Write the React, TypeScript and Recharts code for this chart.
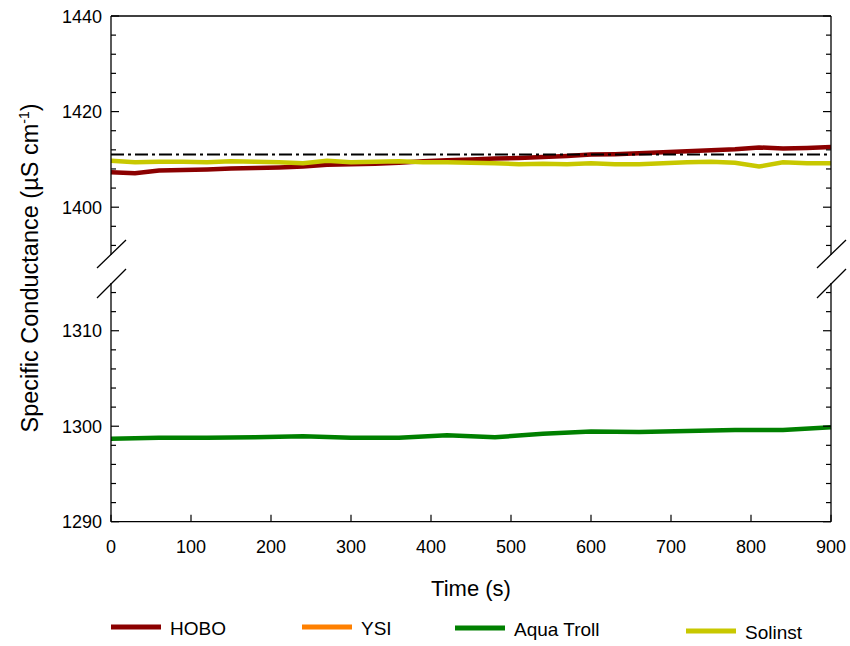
import React from 'react';
import { LineChart, Line, XAxis, YAxis, ReferenceLine } from 'recharts';

const FONT = '"Liberation Sans", Arial, sans-serif';

// HOBO / Solinst logging times (s)
const fastTimes = [0, 30, 60, 90, 120, 150, 180, 210, 240, 270, 300, 330, 360, 390, 420, 450, 480, 510, 540, 570, 600, 630, 660, 690, 720, 750, 780, 810, 840, 870, 900];
const hoboValues = [1407.3, 1407.1, 1407.7, 1407.8, 1407.9, 1408.1, 1408.2, 1408.3, 1408.5, 1408.9, 1409.0, 1409.1, 1409.3, 1409.6, 1409.8, 1410.0, 1410.2, 1410.3, 1410.5, 1410.7, 1411.0, 1411.1, 1411.3, 1411.5, 1411.7, 1411.9, 1412.1, 1412.5, 1412.3, 1412.4, 1412.6];
const solinstValues = [1409.7, 1409.4, 1409.5, 1409.5, 1409.4, 1409.6, 1409.5, 1409.4, 1409.2, 1409.7, 1409.4, 1409.5, 1409.6, 1409.4, 1409.4, 1409.3, 1409.2, 1409.0, 1409.1, 1409.0, 1409.2, 1409.0, 1409.0, 1409.2, 1409.4, 1409.5, 1409.3, 1408.5, 1409.4, 1409.2, 1409.2];

// Aqua Troll logging times (s)
const trollTimes = [0, 60, 120, 180, 240, 300, 360, 420, 480, 540, 600, 660, 720, 780, 840, 900];
const trollValues = [1298.7, 1298.8, 1298.8, 1298.85, 1298.95, 1298.8, 1298.8, 1299.05, 1298.85, 1299.2, 1299.45, 1299.4, 1299.5, 1299.6, 1299.6, 1299.9];

const standardValue = 1411;

const xTicks = [0, 100, 200, 300, 400, 500, 600, 700, 800, 900];
const upperTicks = [1440, 1436, 1432, 1428, 1424, 1420, 1416, 1412, 1408, 1404, 1400, 1396, 1392];
const upperMajor = [1440, 1420, 1400];
const lowerTicks = [1314, 1312, 1310, 1308, 1306, 1304, 1302, 1300, 1298, 1296, 1294, 1292, 1290];
const lowerMajor = [1310, 1300, 1290];

const seriesNames = ['HOBO', 'YSI', 'Aqua Troll', 'Solinst'];
const seriesColors = ['#8B0000', '#FF8000', '#008000', '#C8C800'];

const upperData = fastTimes.map((t, i) => ({ t, hobo: hoboValues[i], solinst: solinstValues[i] }));
const lowerData = trollTimes.map((t, i) => ({ t, troll: trollValues[i] }));

const AXIS = { stroke: '#000', strokeWidth: 1.3 };

const makeYTick = (major: number[], side: 'left' | 'right') => (props: any) => {
  const { x, y, payload } = props;
  const isMajor = major.includes(payload.value);
  const len = isMajor ? 8 : 5;
  const dir = side === 'left' ? 1 : -1;
  return (
    <g>
      <line x1={x} x2={x + dir * len} y1={y} y2={y} stroke="#000" strokeWidth={1.2} />
      {side === 'left' && isMajor && (
        <text x={x - 9} y={y} dy={6.5} textAnchor="end" fontSize={18} fontFamily={FONT} fill="#000">
          {payload.value}
        </text>
      )}
    </g>
  );
};

const XTick = (props: any) => {
  const { x, y, payload } = props;
  return (
    <g>
      <line x1={x} x2={x} y1={y} y2={y - 7} stroke="#000" strokeWidth={1.2} />
      <text x={x} y={y + 31.6} textAnchor="middle" fontSize={18} fontFamily={FONT} fill="#000">
        {payload.value}
      </text>
    </g>
  );
};

const legendX = [111, 302, 455, 686];
const legendDy = [0, 0, 1, 4];

const App: React.FC = () => {
  return (
    <div style={{ position: 'absolute', left: 0, top: 0, width: 850, height: 646, background: '#fff', fontFamily: FONT }}>
      {/* upper panel 1390-1440 */}
      <div style={{ position: 'absolute', left: 0, top: 0 }}>
        <LineChart width={850} height={256} data={upperData} margin={{ top: 16, right: 0, bottom: 1, left: 0 }}>
          <XAxis type="number" dataKey="t" domain={[0, 900]} hide />
          <YAxis
            type="number"
            domain={[1390, 1440]}
            allowDataOverflow
            ticks={upperTicks}
            interval={0}
            width={111}
            tickSize={0}
            tickMargin={0}
            tickLine={false}
            axisLine={AXIS}
            tick={makeYTick(upperMajor, 'left')}
          />
          <YAxis
            yAxisId="r"
            orientation="right"
            type="number"
            domain={[1390, 1440]}
            allowDataOverflow
            ticks={upperTicks}
            interval={0}
            width={19}
            tickSize={0}
            tickMargin={0}
            tickLine={false}
            axisLine={AXIS}
            tick={makeYTick(upperMajor, 'right')}
          />
          <ReferenceLine y={1440} stroke="#000" strokeWidth={1.3} />
          <Line type="linear" dataKey="hobo" stroke={seriesColors[0]} strokeWidth={4.5} dot={false} isAnimationActive={false} />
          <Line type="linear" dataKey="solinst" stroke={seriesColors[3]} strokeWidth={4.5} dot={false} isAnimationActive={false} />
          <ReferenceLine y={standardValue} stroke="#000" strokeWidth={2} strokeDasharray="13 4 3 4" />
        </LineChart>
      </div>

      {/* lower panel 1290-1315 */}
      <div style={{ position: 'absolute', left: 0, top: 270 }}>
        <LineChart width={850} height={300} data={lowerData} margin={{ top: 13, right: 0, bottom: 8.3, left: 0 }}>
          <XAxis
            type="number"
            dataKey="t"
            domain={[0, 900]}
            ticks={xTicks}
            interval={0}
            height={40}
            tickSize={0}
            tickMargin={0}
            tickLine={false}
            axisLine={AXIS}
            tick={XTick}
          />
          <YAxis
            type="number"
            domain={[1290, 1315]}
            allowDataOverflow
            ticks={lowerTicks}
            interval={0}
            width={111}
            tickSize={0}
            tickMargin={0}
            tickLine={false}
            axisLine={AXIS}
            tick={makeYTick(lowerMajor, 'left')}
          />
          <YAxis
            yAxisId="r"
            orientation="right"
            type="number"
            domain={[1290, 1315]}
            allowDataOverflow
            ticks={lowerTicks}
            interval={0}
            width={19}
            tickSize={0}
            tickMargin={0}
            tickLine={false}
            axisLine={AXIS}
            tick={makeYTick(lowerMajor, 'right')}
          />
          <Line type="linear" dataKey="troll" stroke={seriesColors[2]} strokeWidth={4.5} dot={false} isAnimationActive={false} />
        </LineChart>
      </div>

      {/* axis breaks, titles, legend */}
      <svg width={850} height={646} style={{ position: 'absolute', left: 0, top: 0, pointerEvents: 'none' }}>
        <g stroke="#000" strokeWidth={1.3}>
          <line x1={97} y1={268} x2={126} y2={240} />
          <line x1={97} y1={298} x2={126} y2={269} />
          <line x1={817} y1={268} x2={846} y2={240} />
          <line x1={817} y1={298} x2={846} y2={269} />
        </g>
        <text x={38} y={268} transform="rotate(-90 38 268)" textAnchor="middle" fontSize={23.5} fontFamily={FONT} fill="#000">
          Specific Conductance (µS cm
          <tspan dy={-9} fontSize={14}>-1</tspan>
          <tspan dy={9}>)</tspan>
        </text>
        <text x={471} y={596} textAnchor="middle" fontSize={22} fontFamily={FONT} fill="#000">
          Time (s)
        </text>
        {seriesNames.map((name, i) => (
          <g key={name}>
            <line x1={legendX[i]} x2={legendX[i] + 50} y1={627 + legendDy[i]} y2={627 + legendDy[i]} stroke={seriesColors[i]} strokeWidth={5} />
            <text x={legendX[i] + 59} y={634.5 + legendDy[i]} fontSize={19} fontFamily={FONT} fill="#000">
              {name}
            </text>
          </g>
        ))}
      </svg>
    </div>
  );
};

export default App;
